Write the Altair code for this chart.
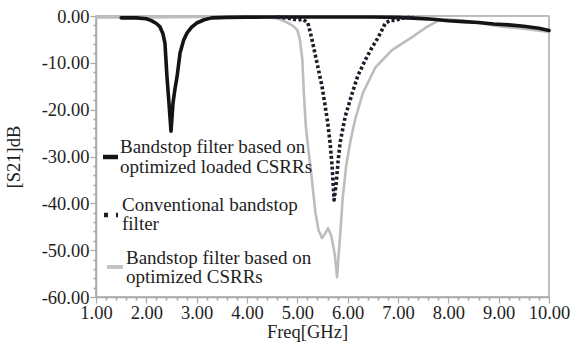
import altair as alt
import pandas as pd

# ---------------- data ----------------
loaded_f = [1.5, 1.8, 2.0, 2.1, 2.2, 2.27, 2.33, 2.37, 2.41, 2.45, 2.49, 2.53, 2.57, 2.61,
            2.67, 2.74, 2.81, 2.9, 3.0, 3.15, 3.3, 3.6, 4.0, 4.5, 5.0, 5.5, 6.0, 6.5, 7.0,
            7.4, 7.7, 8.0, 8.3, 8.6, 8.9, 9.2, 9.5, 9.8, 10.0]
loaded_s = [-0.4, -0.4, -0.6, -1.0, -1.6, -2.3, -3.8, -5.8, -13.0, -18.6, -24.6, -18.6, -15.5, -13.0,
            -7.9, -5.2, -3.6, -2.4, -1.5, -0.8, -0.4, -0.3, -0.25, -0.2, -0.2, -0.2, -0.2, -0.2, -0.3,
            -0.5, -0.7, -1.0, -1.2, -1.4, -1.7, -1.9, -2.2, -2.6, -3.1]

conv_f = [4.6, 4.9, 5.0, 5.1, 5.15, 5.21, 5.28, 5.35, 5.42, 5.49, 5.55, 5.6, 5.65, 5.69, 5.73,
          5.77, 5.81, 5.85, 5.95, 6.09, 6.2, 6.35, 6.48, 6.61, 6.75, 6.85, 6.95, 7.05, 7.3]
conv_s = [-0.2, -0.6, -0.9, -0.7, -1.0, -1.5, -4.5, -8.0, -11.5, -15.0, -19.0, -22.5, -27.0, -32.0, -39.3,
          -36.0, -31.0, -27.0, -21.5, -16.5, -12.8, -9.4, -6.8, -4.5, -1.5, -0.9, -1.0, -0.5, -0.2]

opt_f = [1.0, 2.0, 3.0, 4.0, 4.4, 4.6, 4.76, 4.9, 5.0, 5.05, 5.1, 5.13, 5.17, 5.22, 5.27, 5.31,
         5.36, 5.42, 5.49, 5.55, 5.61, 5.67, 5.72, 5.75, 5.79, 5.82, 5.85, 5.9, 5.97, 6.05, 6.15,
         6.3, 6.55, 6.88, 7.28, 7.55, 7.8, 8.0, 8.3, 8.6, 9.0, 9.5, 10.0]
opt_s = [-0.3, -0.3, -0.2, -0.2, -0.3, -0.5, -1.2, -2.0, -3.0, -5.0, -9.4, -16.5, -23.7, -28.6, -33.0, -37.0,
         -42.0, -45.7, -47.4, -46.5, -45.3, -46.8, -49.5, -51.5, -55.8, -51.0, -47.0, -39.0, -32.0, -27.0, -22.0,
         -16.5, -11.0, -7.3, -4.5, -2.5, -1.0, -0.7, -1.0, -1.5, -2.2, -2.7, -3.4]

legend_loaded = "Bandstop filter based on\noptimized loaded CSRRs"
legend_conv = "Conventional bandstop\nfilter"
legend_opt = "Bandstop filter based on\noptimized CSRRs"

x_ticks = [round(1 + 0.2 * i, 1) for i in range(46)]
y_ticks = list(range(-60, 1, 2))

# ---------------- styling ----------------
FONT = "Liberation Serif"
FS = 18.5
LEG_FS = 19
AXIS_GRAY = "#a9a9a9"
TEXT = "#1e1e1e"

major_x = "abs(datum.value - round(datum.value)) < 0.001"
major_y = "abs(datum.value % 10) < 0.001"
lab = "(datum.value < 0 ? '-' : '') + format(abs(datum.value), '.2f')"

xscale = alt.Scale(domain=[1, 10], nice=False, zero=False)
yscale = alt.Scale(domain=[-60, 0], nice=False, zero=False)

xaxis = alt.Axis(
    values=x_ticks, title="Freq[GHz]", grid=False,
    labelExpr=f"{major_x} ? {lab} : ''",
    tickSize={"condition": {"test": major_x, "value": 6}, "value": 3},
    tickWidth={"condition": {"test": major_x, "value": 1.2}, "value": 1.6},
    labelPadding=0, labelOverlap=False, labelFlush=False,
    titleX=211, titlePadding=1,
)
yaxis = alt.Axis(
    values=y_ticks, title="[S21]dB", grid=False,
    labelExpr=f"{major_y} ? {lab} : ''",
    tickSize={"condition": {"test": major_y, "value": 6}, "value": 3},
    tickWidth={"condition": {"test": major_y, "value": 1.2}, "value": 1.6},
    labelPadding=1, labelOverlap=False, labelFlush=False,
    titlePadding=18,
)

def curve(f, s, color, width, dash=None):
    df = pd.DataFrame({"f": f, "s": s})
    kw = dict(color=color, strokeWidth=width, strokeJoin="round")
    if dash:
        kw["strokeDash"] = dash
        kw["strokeCap"] = "butt"
    else:
        kw["strokeCap"] = "round"
    return alt.Chart(df).mark_line(**kw).encode(
        x=alt.X("f:Q", scale=xscale, axis=xaxis),
        y=alt.Y("s:Q", scale=yscale, axis=yaxis),
        order="f:Q",
    )

gray = curve(opt_f, opt_s, "#bdbdbd", 2.6)
black = curve(loaded_f, loaded_s, "#141414", 3.6)
dotted = curve(conv_f, conv_s, "#1c1c2a", 3.6, dash=[3.0, 2.4])

def legend_entry(label, tx, ty, sx1, sx2, sy, color, width, dash=None):
    df = pd.DataFrame({"label": [label]})
    rkw = dict(color=color, strokeWidth=width)
    if dash:
        rkw["strokeDash"] = dash
    sym = alt.Chart(df).mark_rule(**rkw).encode(
        x=alt.value(sx1), x2=alt.value(sx2), y=alt.value(sy))
    txt = alt.Chart(df).mark_text(
        align="left", baseline="middle", font=FONT, fontSize=LEG_FS,
        lineBreak="\n", lineHeight=19.5, color=TEXT,
    ).encode(text="label:N", x=alt.value(tx), y=alt.value(ty))
    return sym + txt

leg1 = legend_entry(legend_loaded, 24, 131, 7, 22, 141, "#141414", 4.5)
leg2 = legend_entry(legend_conv, 26, 188.5, 8, 22, 199, "#1c1c2a", 4.5, dash=[4, 8])
leg3 = legend_entry(legend_opt, 30, 241.5, 11, 27, 251, "#c4c4c4", 4)

chart = alt.layer(gray, black, dotted, leg1, leg2, leg3).properties(
    width=453, height=281,
    autosize="none",
    padding={"left": 96, "top": 16, "right": 32, "bottom": 47},
    background="white",
).configure_view(
    stroke=AXIS_GRAY, strokeWidth=1.5,
).configure_axis(
    domainColor=AXIS_GRAY, domainWidth=1.5,
    tickColor=AXIS_GRAY,
    labelFont=FONT, labelFontSize=FS, labelColor=TEXT,
    titleFont=FONT, titleFontSize=FS, titleColor=TEXT, titleFontWeight="normal",
)

chart.save("out.html", embed_options={"renderer": "svg", "actions": False})
